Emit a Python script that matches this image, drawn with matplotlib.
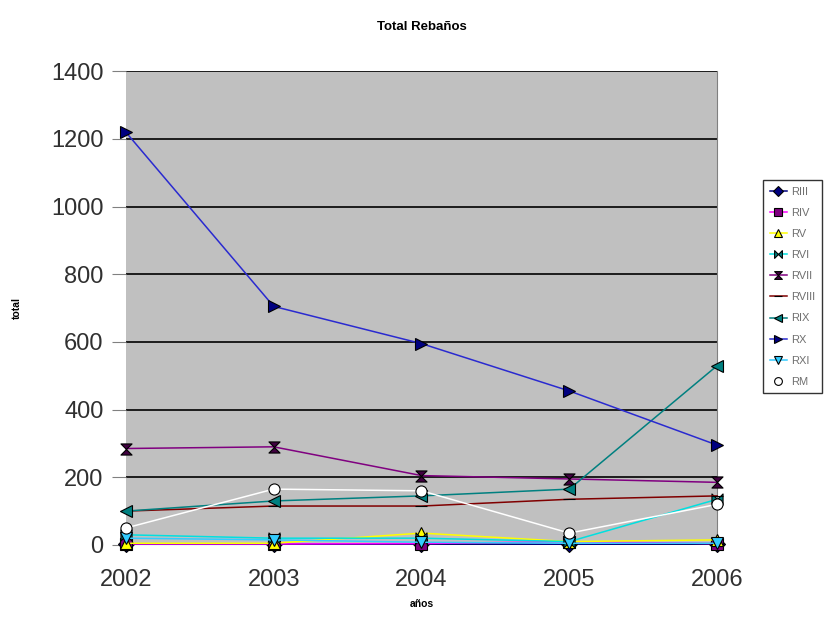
import matplotlib
matplotlib.use("Agg")
import matplotlib.pyplot as plt
from matplotlib.path import Path

plt.rcParams["font.family"] = ["Liberation Sans", "DejaVu Sans"]

years = [2002, 2003, 2004, 2005, 2006]

r_iii = [2, 2, 3, 2, 3]
r_iv = [3, 3, 4, 10, 4]
r_v = [5, 5, 35, 10, 15]
r_vi = [30, 20, 20, 10, 135]
r_vii = [285, 290, 205, 195, 185]
r_viii = [100, 115, 115, 135, 145]
r_ix = [100, 130, 145, 165, 530]
r_x = [1220, 705, 595, 455, 295]
r_xi = [20, 15, 8, 5, 5]
r_m = [50, 165, 160, 35, 120]

# bowtie and hourglass markers
bowtie = Path([(-1, -1), (-1, 1), (0, 0), (1, 1), (1, -1), (0, 0), (-1, -1)],
              [Path.MOVETO] + [Path.LINETO] * 5 + [Path.CLOSEPOLY])
hourglass = Path([(-1, 1), (1, 1), (0, 0), (1, -1), (-1, -1), (0, 0), (-1, 1)],
                 [Path.MOVETO] + [Path.LINETO] * 5 + [Path.CLOSEPOLY])

series = [
    ("RIII", r_iii, "#000080", "D", "#000080"),
    ("RIV", r_iv, "#ff00ff", "s", "#800080"),
    ("RV", r_v, "#ffff00", "^", "#ffff00"),
    ("RVI", r_vi, "#00e0e0", bowtie, "#008080"),
    ("RVII", r_vii, "#800080", hourglass, "#400040"),
    ("RVIII", r_viii, "#800000", "_", "#800000"),
    ("RIX", r_ix, "#008080", "<", "#008080"),
    ("RX", r_x, "#2a2ad0", ">", "#000080"),
    ("RXI", r_xi, "#33ccff", "v", "#33ccff"),
    ("RM", r_m, "#ffffff", "o", "#ffffff"),
]

fig = plt.figure(figsize=(8.33, 6.3), dpi=100)
ax = fig.add_axes([0.151, 0.135, 0.710, 0.752])
ax.set_facecolor("#c0c0c0")

for name, vals, color, marker, face in series:
    ax.plot(years, vals, color=color, lw=1.1, marker=marker, markersize=8,
            markerfacecolor=face, markeredgecolor="#000000", markeredgewidth=0.8,
            label=name, clip_on=False, zorder=3)

ax.set_xlim(2002, 2006)
ax.set_ylim(0, 1400)
ax.set_xticks(years)
ax.set_yticks(range(0, 1401, 200))
ax.tick_params(axis="y", labelsize=17, length=10, width=0.8, color="#808080",
               pad=6, labelcolor="#303030")
ax.tick_params(axis="x", labelsize=17, length=0, pad=17, labelcolor="#303030")
ax.grid(axis="y", color="#000000", lw=1.2)
ax.set_axisbelow(True)
for side in ["top", "right", "left", "bottom"]:
    ax.spines[side].set_visible(False)
ax.spines["right"].set_visible(True)
ax.spines["right"].set_color("#808080")

ax.set_title("Total Rebaños", fontsize=9.5, fontweight="bold", pad=30)
ax.set_xlabel("años", fontsize=7.5, fontweight="bold", labelpad=6)
ax.set_ylabel("total", fontsize=7.5, fontweight="bold", labelpad=21)

leg = ax.legend(loc="upper left", bbox_to_anchor=(1.078, 0.770), fontsize=8,
                frameon=True, fancybox=False, edgecolor="#000000",
                handlelength=1.5, handletextpad=0.4, labelspacing=1.0,
                borderpad=0.6, borderaxespad=0, markerscale=0.7)
for t in leg.get_texts():
    t.set_color("#707070")

fig.savefig("out.png", dpi=100)
